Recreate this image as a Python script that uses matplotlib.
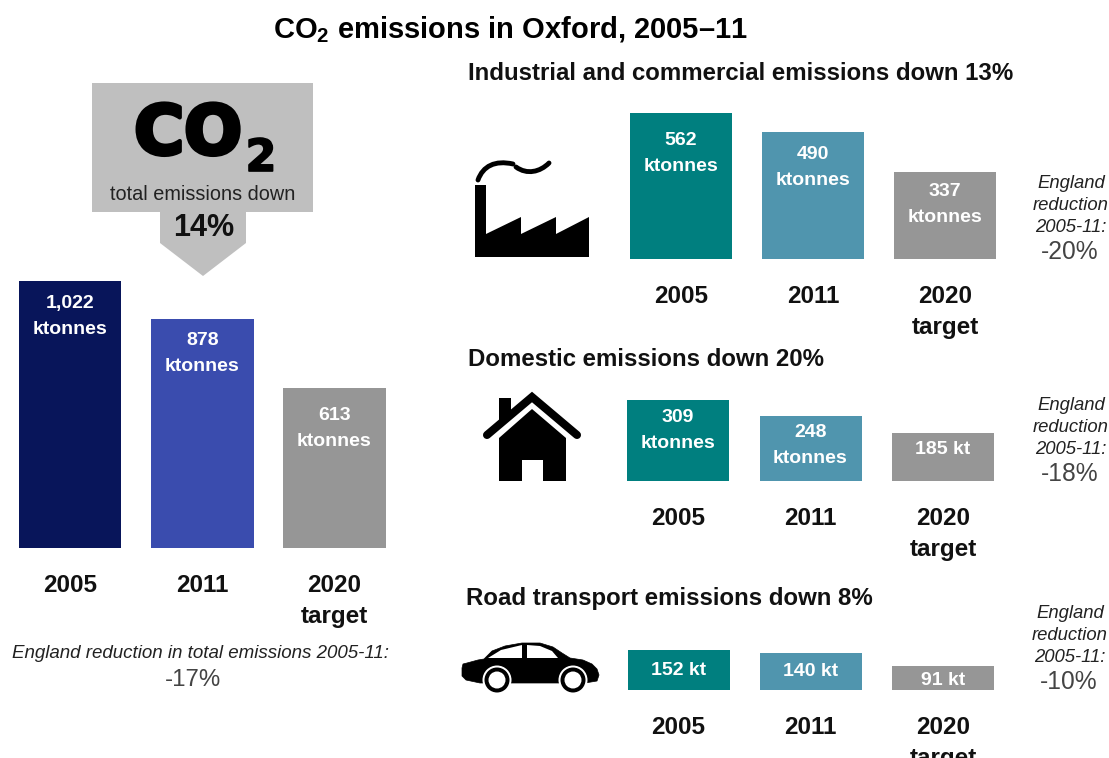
#!/usr/bin/env python3
"""CO2 emissions in Oxford, 2005-11: total plus three sector panels."""

import matplotlib
matplotlib.use("Agg")
import matplotlib.pyplot as plt
import matplotlib.patheffects as pe
from matplotlib.patches import Circle, PathPatch, Polygon
from matplotlib.path import Path

plt.rcParams["font.family"] = ["Liberation Sans", "DejaVu Sans"]
plt.rcParams["mathtext.fontset"] = "custom"
plt.rcParams["mathtext.rm"] = "Liberation Sans"
plt.rcParams["mathtext.bf"] = "Liberation Sans:bold"

# --- data ---
YEAR_LABELS = ["2005", "2011", "2020\ntarget"]
TOTAL = [1022, 878, 613]
INDUSTRY = [562, 490, 337]
DOMESTIC = [309, 248, 185]
ROAD = [152, 140, 91]
TOTAL_LABELS = [["1,022", "ktonnes"], ["878", "ktonnes"], ["613", "ktonnes"]]
INDUSTRY_LABELS = [["562", "ktonnes"], ["490", "ktonnes"], ["337", "ktonnes"]]
DOMESTIC_LABELS = [["309", "ktonnes"], ["248", "ktonnes"], ["185 kt"]]
ROAD_LABELS = [["152 kt"], ["140 kt"], ["91 kt"]]
ENGLAND_CHANGE = ["-20%", "-18%", "-10%"]

# --- layout, all in reference pixels ---
W, H = 1109, 758
NAVY, BLUE, GREY = "#08155A", "#3A4CAE", "#969696"
TEAL, LIGHT_TEAL = "#007F7F", "#5095AE"

fig = plt.figure(figsize=(W / 100, H / 100), dpi=100, facecolor="white")

# overlay for free text and icons, y runs downwards like the picture
bg = fig.add_axes([0, 0, 1, 1])
bg.set_xlim(0, W)
bg.set_ylim(H, 0)
bg.axis("off")


def bar_panel(values, labels, colors, first_centre, spacing, baseline, bar_px, px_per_kt, offsets):
    left = first_centre - spacing / 2
    height = max(values) * px_per_kt
    ax = fig.add_axes([left / W, (H - baseline) / H, 3 * spacing / W, height / H])
    ax.patch.set_visible(False)
    ax.bar(range(len(values)), values, width=bar_px / spacing, color=colors, linewidth=0)
    ax.set_xlim(-0.5, 2.5)
    ax.set_ylim(0, max(values))
    ax.set_yticks([])
    ax.set_xticks(range(len(values)))
    ax.set_xticklabels(YEAR_LABELS, fontsize=17.5, fontweight="bold", linespacing=1.45,
                       color="#111111")
    ax.tick_params(axis="x", length=0, pad=19)
    for s in ax.spines.values():
        s.set_visible(False)
    for i, lines in enumerate(labels):
        for j, line in enumerate(lines):
            ax.annotate(line, xy=(i, values[i]), xytext=(0, -(offsets[i] + 26 * j) * 0.72),
                        textcoords="offset points", ha="center", va="center",
                        color="white", fontsize=14, fontweight="bold")
    return ax


bar_panel(TOTAL, TOTAL_LABELS, [NAVY, BLUE, GREY], 70, 132.2, 548, 103, 0.2613, [23, 22, 28])
teals = [TEAL, LIGHT_TEAL, GREY]
bar_panel(INDUSTRY, INDUSTRY_LABELS, teals, 681, 132, 259, 102, 0.2595, [27, 23, 20])
bar_panel(DOMESTIC, DOMESTIC_LABELS, teals, 678, 132.5, 481, 102, 0.2613, [17, 16, 17])
bar_panel(ROAD, ROAD_LABELS, teals, 678.5, 132.2, 690, 102, 0.2613, [20, 18, 14])

# --- titles ---
bg.text(510, 30, r"CO$_{\mathbf{2}}$ emissions in Oxford, 2005–11", ha="center", va="center",
        fontsize=21, fontweight="bold", color="black")
headings = [(468, 73, "Industrial and commercial emissions down 13%"),
            (468, 359, "Domestic emissions down 20%"),
            (466, 599, "Road transport emissions down 8%")]
for x, y, txt in headings:
    bg.text(x, y, txt, ha="left", va="center", fontsize=17.3, fontweight="bold", color="#111111")

# --- CO2 callout ---
bg.add_patch(Polygon([(92, 83), (313, 83), (313, 212), (246, 212), (246, 243), (203, 276),
                      (160, 243), (160, 212), (92, 212)], closed=True, fc="#BFBFBF", ec="none"))
bg.text(188, 154, "CO", ha="center", va="baseline", fontsize=49, fontweight="bold",
        family="DejaVu Sans", color="black",
        path_effects=[pe.withStroke(linewidth=3, foreground="black")])
bg.text(261, 171, "2", ha="center", va="baseline", fontsize=32, fontweight="bold",
        family="DejaVu Sans", color="black",
        path_effects=[pe.withStroke(linewidth=1.2, foreground="black")])
bg.text(203, 194, "total emissions down", ha="center", va="center", fontsize=14.3, color="#222222")
bg.text(204, 228, "14%", ha="center", va="center", fontsize=22, fontweight="bold", color="#111111")

# --- England comparison ---
bg.text(201, 654, "England reduction in total emissions 2005-11:", ha="center", va="center",
        fontsize=13.5, fontstyle="italic", color="#222222")
bg.text(193, 680, "-17%", ha="center", va="center", fontsize=17.3, color="#444444")
for x, y0, change in zip([1071, 1071, 1070], [184, 406, 614], ENGLAND_CHANGE):
    for k, line in enumerate(["England", "reduction", "2005-11:"]):
        bg.text(x, y0 + 21.8 * k, line, ha="center", va="center", fontsize=13.3,
                fontstyle="italic", color="#222222")
    bg.text(x - 1, y0 + 68, change, ha="center", va="center", fontsize=17.7, color="#444444")

# --- factory icon ---
bg.add_patch(Polygon([(475, 185), (486, 185), (486, 234), (521, 217), (521, 234), (556, 217),
                      (556, 234), (589, 217), (589, 257), (475, 257)], closed=True, fc="black"))
smoke_a = Path([(478, 180), (483, 166), (495, 160), (513, 164)],
               [Path.MOVETO, Path.CURVE4, Path.CURVE4, Path.CURVE4])
smoke_b = Path([(516, 167), (527, 175), (540, 172), (549, 163)],
               [Path.MOVETO, Path.CURVE4, Path.CURVE4, Path.CURVE4])
for p in (smoke_a, smoke_b):
    bg.add_patch(PathPatch(p, fc="none", ec="black", lw=3.5, capstyle="round"))

# --- house icon ---
bg.add_patch(Polygon([(499, 398), (511, 398), (511, 415), (499, 425)], closed=True, fc="black"))
bg.plot([487, 532, 577], [435, 397, 435], color="black", lw=5.8, solid_capstyle="round",
        solid_joinstyle="miter")
bg.add_patch(Polygon([(532, 409), (566, 438), (566, 481), (543, 481), (543, 460), (522, 460),
                      (522, 481), (499, 481), (499, 438)], closed=True, fc="black"))

# --- car icon ---
car_verts = [(462, 668), (463, 664), (467, 663), (478, 660), (484, 659), (492, 651), (505, 646),
             (522, 643), (540, 643), (553, 647), (562, 653), (570, 658), (583, 660), (592, 664),
             (597, 669), (599, 675), (597, 681), (585, 683), (480, 683), (466, 680), (462, 676)]
bg.add_patch(Polygon(car_verts, closed=True, fc="black", ec="black", lw=0.5, joinstyle="round"))
bg.add_patch(Polygon([(488, 658), (501, 650), (522, 645), (522, 658)], closed=True, fc="white"))
bg.add_patch(Polygon([(527, 645), (540, 646), (552, 651), (558, 658), (527, 658)], closed=True,
                     fc="white"))
for cx in (497, 573):
    bg.add_patch(Circle((cx, 680), 14.5, fc="white", ec="none"))
    bg.add_patch(Circle((cx, 680), 12.5, fc="black", ec="none"))
    bg.add_patch(Circle((cx, 680), 8.5, fc="white", ec="none"))

plt.savefig("out.png", dpi=100, facecolor="white")
